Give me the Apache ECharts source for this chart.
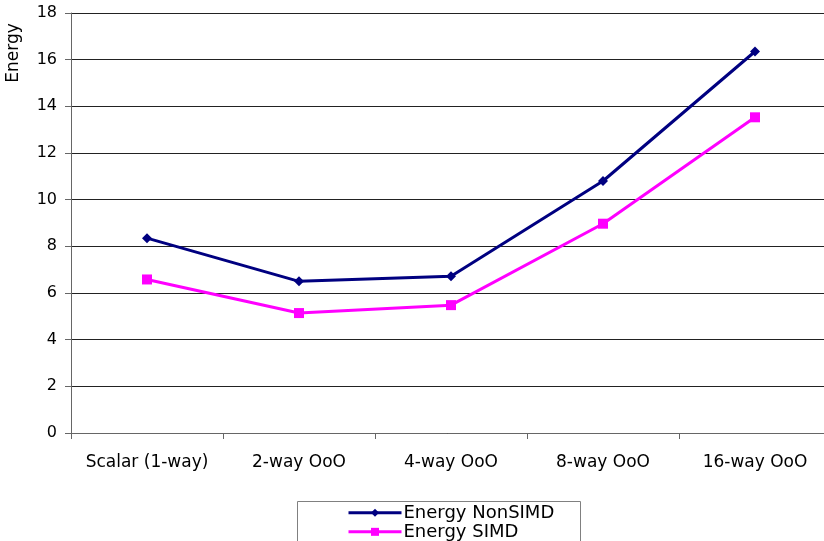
<html>
<head>
<script src="https://cdn.jsdelivr.net/npm/echarts@6/dist/echarts.min.js"></script>
</head>
<style>
    body { margin: 0; }
    #chart { width: 824px; height: 541px; }
</style>
<body>
<div id="chart"></div>
<script>
    // categories along x
    const categories = ['Scalar (1-way)', '2-way OoO', '4-way OoO', '8-way OoO', '16-way OoO']
    // values
    const energyNonSIMD = [8.35, 6.5, 6.72, 10.8, 16.35]
    const energySIMD = [6.58, 5.14, 5.48, 8.97, 13.53]

    const font = 'DejaVu Sans'
    const chart = echarts.init(document.getElementById('chart'))

    // one legend per row, the box runs off the bottom so a single vertical legend would wrap
    function legendRow(name, top) {
        return {
            orient: 'horizontal',
            left: 347, top: top,
            padding: 0,
            itemWidth: 53, itemHeight: 10,
            lineStyle: { width: 3 },
            textStyle: { fontFamily: font, fontSize: 18, color: '#000', padding: [0, 0, 0, -3] },
            data: [name]
        }
    }

    const option = {
        animation: false,
        backgroundColor: '#fff',
        textStyle: { fontFamily: font },
        // plot runs a little past the right edge of the canvas
        grid: { left: 71, width: 760, top: 13, bottom: 108, outerBoundsMode: 'none' },
        graphic: [{
            type: 'text',
            x: 14, y: 53,
            rotation: Math.PI / 2,
            style: { text: 'Energy', font: '17px "DejaVu Sans"', fill: '#000', align: 'center', verticalAlign: 'middle' }
        }, {
            type: 'rect',
            shape: { x: 297.5, y: 501.5, width: 283, height: 60 },
            style: { fill: 'none', stroke: '#808080', lineWidth: 1 },
            z: -1
        }],
        legend: [legendRow('Energy NonSIMD', 495), legendRow('Energy SIMD', 514)],
        xAxis: {
            type: 'category',
            data: categories,
            axisLine: { lineStyle: { color: '#666' } },
            axisTick: { show: true, interval: 0, length: 6, lineStyle: { color: '#666' } },
            axisLabel: { color: '#000', fontSize: 17, margin: 13, interval: 0 }
        },
        yAxis: {
            type: 'value',
            min: 0, max: 18, interval: 2,
            axisLine: { show: true, lineStyle: { color: '#666' } },
            axisTick: { show: true, length: 6, lineStyle: { color: '#666' } },
            axisLabel: { color: '#000', fontSize: 16, margin: 14 },
            splitLine: { lineStyle: { color: '#222' } }
        },
        series: [{
            name: 'Energy NonSIMD',
            type: 'line',
            data: energyNonSIMD,
            color: '#000080',
            symbol: 'diamond', symbolSize: 10,
            lineStyle: { width: 3 }
        }, {
            name: 'Energy SIMD',
            type: 'line',
            data: energySIMD,
            color: '#ff00ff',
            symbol: 'rect', symbolSize: 10,
            lineStyle: { width: 3 }
        }]
    }
    chart.setOption(option)
</script>
</body>
</html>
